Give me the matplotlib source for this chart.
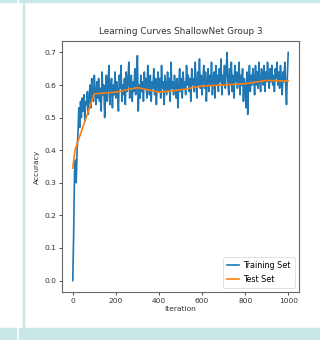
import matplotlib
matplotlib.use("Agg")
import matplotlib.pyplot as plt
from matplotlib.patches import Rectangle

train_iter = list(range(0, 1001, 4))
train_acc = [
    0.00, 0.14, 0.33, 0.37, 0.30, 0.40, 0.45, 0.53, 0.47, 0.55,
    0.50, 0.56, 0.52, 0.57, 0.49, 0.55, 0.54, 0.58, 0.51, 0.56,
    0.60, 0.53, 0.62, 0.57, 0.55, 0.63, 0.58, 0.54, 0.61, 0.56,
    0.62, 0.55, 0.59, 0.52, 0.64, 0.57, 0.60, 0.50, 0.58, 0.63,
    0.55, 0.61, 0.66, 0.54, 0.59, 0.62, 0.53, 0.60, 0.57, 0.64,
    0.56, 0.61, 0.58, 0.52, 0.63, 0.59, 0.66, 0.55, 0.60, 0.57,
    0.62, 0.54, 0.64, 0.58, 0.61, 0.67, 0.56, 0.60, 0.63, 0.55,
    0.61, 0.58, 0.65, 0.57, 0.62, 0.69, 0.52, 0.60, 0.56, 0.63,
    0.58, 0.61, 0.55, 0.64, 0.59, 0.62, 0.56, 0.66, 0.60, 0.57,
    0.63, 0.55, 0.61, 0.59, 0.65, 0.57, 0.62, 0.54, 0.60, 0.64,
    0.58, 0.62, 0.56, 0.66, 0.59, 0.61, 0.54, 0.63, 0.60, 0.57,
    0.64, 0.58, 0.62, 0.55, 0.67, 0.59, 0.61, 0.57, 0.63, 0.60,
    0.56, 0.62, 0.53, 0.60, 0.65, 0.58, 0.62, 0.56, 0.64, 0.59,
    0.61, 0.57, 0.66, 0.60, 0.63, 0.58, 0.62, 0.55, 0.65, 0.60,
    0.62, 0.58, 0.67, 0.61, 0.56, 0.64, 0.60, 0.68, 0.59, 0.63,
    0.57, 0.62, 0.66, 0.59, 0.64, 0.55, 0.61, 0.65, 0.58, 0.63,
    0.60, 0.67, 0.57, 0.62, 0.64, 0.56, 0.66, 0.60, 0.63, 0.58,
    0.65, 0.61, 0.68, 0.57, 0.63, 0.60, 0.66, 0.59, 0.64, 0.70,
    0.61, 0.57, 0.65, 0.60, 0.67, 0.58, 0.63, 0.56, 0.66, 0.61,
    0.64, 0.59, 0.62, 0.67, 0.57, 0.63, 0.60, 0.65, 0.55, 0.62,
    0.59, 0.53, 0.64, 0.51, 0.61, 0.66, 0.58, 0.63, 0.60, 0.65,
    0.62, 0.57, 0.66, 0.60, 0.64, 0.59, 0.67, 0.61, 0.58, 0.65,
    0.63, 0.60, 0.66, 0.58, 0.64, 0.61, 0.67, 0.62, 0.59, 0.65,
    0.61, 0.66, 0.60, 0.63, 0.58, 0.65, 0.62, 0.67, 0.60, 0.64,
    0.59, 0.66, 0.62, 0.57, 0.64, 0.61, 0.67, 0.60, 0.54, 0.63,
    0.70,
]

test_iter = [0, 10, 100, 200, 300, 400, 500, 600, 700, 800, 900, 1000]
test_acc = [0.345, 0.40, 0.573, 0.578, 0.592, 0.578, 0.585, 0.597, 0.600, 0.604, 0.614, 0.612]

xticks = [0, 200, 400, 600, 800, 1000]
yticks = [0.0, 0.1, 0.2, 0.3, 0.4, 0.5, 0.6, 0.7]

plt.rcParams['font.family'] = ['Liberation Sans Narrow', 'DejaVu Sans Condensed', 'DejaVu Sans']

W, H = 320, 340
fig = plt.figure(figsize=(W / 100, H / 100), dpi=100)
fig.patch.set_facecolor('white')

teal = '#c9e7e5'
# decorative frame of the screenshot
fig.patches.append(Rectangle((0, 1 - 1.5 / H), 16 / W, 1.5 / H, transform=fig.transFigure, color=teal, zorder=0))
fig.patches.append(Rectangle((19 / W, 1 - 1.5 / H), 1 - 19 / W, 1.5 / H, transform=fig.transFigure, color=teal, zorder=0))
fig.patches.append(Rectangle((23 / W, 12 / H), 1.0 / W, 1 - 12 / H, transform=fig.transFigure, color=teal, zorder=0))
fig.patches.append(Rectangle((0, 0), 16 / W, 12 / H, transform=fig.transFigure, color=teal, zorder=0))
fig.patches.append(Rectangle((19 / W, 0), 1 - 19 / W, 12 / H, transform=fig.transFigure, color=teal, zorder=0))

ax = fig.add_axes([62 / W, 1 - 292 / H, (299 - 62) / W, (292 - 41) / H])
ax.plot(train_iter, train_acc, color='#1f77b4', lw=1.2, label='Training Set')
ax.plot(test_iter, test_acc, color='#ff7f0e', lw=1.2, label='Test Set')

ax.set_xticks(xticks)
ax.set_yticks(yticks)
ax.set_xticklabels([str(v) for v in xticks])
ax.set_yticklabels(['%.1f' % v for v in yticks])
ax.tick_params(labelsize=5.4, length=2, width=0.6, pad=2, colors='#333333')

for s in ax.spines.values():
    s.set_color('#666666')
    s.set_linewidth(0.8)

ax.set_title('Learning Curves ShallowNet Group 3', fontsize=6.4, color='#333333', pad=5)
ax.set_xlabel('Iteration', fontsize=5.4, color='#333333', labelpad=2)
ax.set_ylabel('Accuracy', fontsize=5.4, color='#333333', labelpad=3)

leg = ax.legend(loc='lower right', fontsize=5.8, handlelength=1.4, borderpad=0.5,
                labelspacing=0.6, handletextpad=0.6, fancybox=True, framealpha=0.8)
leg.get_frame().set_linewidth(0.5)

fig.savefig('out.png', dpi=100)
